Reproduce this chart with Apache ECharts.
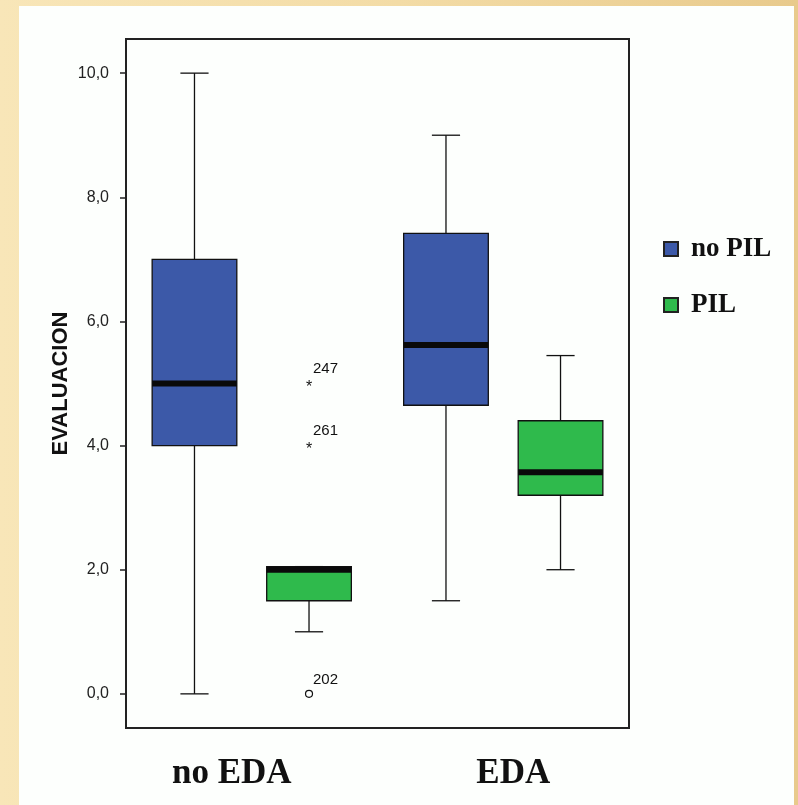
<!DOCTYPE html>
<html>
<head>
<meta charset="utf-8">
<script src="https://cdn.jsdelivr.net/npm/echarts@6.0.0/dist/echarts.min.js"></script>
<style>
  html, body { margin: 0; padding: 0; background: #f5e2b0; }
  #chart { width: 798px; height: 805px; }
</style>
</head>
<body>
<div id="chart"></div>
<script>
// categories and groups
var categories = ["no EDA", "EDA"];
var groups = ["no PIL", "PIL"];
var yTicks = [0, 2, 4, 6, 8, 10];

// [category index, low whisker, Q1, median, Q3, high whisker]
var noPilBoxes = [
  [0, 0.0, 4.0, 5.0, 7.0, 10.0],
  [1, 1.5, 4.65, 5.62, 7.42, 9.0]
];
var pilBoxes = [
  [0, 1.0, 1.5, 2.0, 2.05, 2.05],
  [1, 2.0, 3.2, 3.57, 4.4, 5.45]
];

// outliers of PIL group: [category index, value, case id, kind]
var pilOutliers = [
  [0, 5.0, "247", "star"],
  [0, 4.0, "261", "star"],
  [0, 0.0, "202", "circle"]
];

var colors = ["#3c59a8", "#2fba4c"];

function groupOffset(idx, bw) {
  // same layout as the boxplot series: two boxes per band
  var avail = bw * 0.8 - 2;
  var gap = avail / 2 * 0.3;
  var w = (avail - gap) / 2;
  return { off: w / 2 - avail / 2 + idx * (gap + w), w: w };
}

function boxRender(groupIdx) {
  return function (params, api) {
    var cat = api.value(0);
    var bw = api.size([1, 0])[0];
    var g = groupOffset(groupIdx, bw);
    var cx = api.coord([cat, 0])[0] + g.off;
    var yLow = api.coord([cat, api.value(1)])[1];
    var yQ1 = api.coord([cat, api.value(2)])[1];
    var yMed = api.coord([cat, api.value(3)])[1];
    var yQ3 = api.coord([cat, api.value(4)])[1];
    var yHigh = api.coord([cat, api.value(5)])[1];
    var half = g.w / 2;
    var cap = bw * 0.056;
    var line = { stroke: "#111", lineWidth: 1.3 };
    var children = [
      { type: "line", shape: { x1: cx, y1: yQ1, x2: cx, y2: yLow }, style: line },
      { type: "line", shape: { x1: cx, y1: yQ3, x2: cx, y2: yHigh }, style: line },
      { type: "line", shape: { x1: cx - cap, y1: yLow, x2: cx + cap, y2: yLow }, style: line },
      { type: "line", shape: { x1: cx - cap, y1: yHigh, x2: cx + cap, y2: yHigh }, style: line },
      { type: "rect", shape: { x: cx - half, y: yQ3, width: g.w, height: yQ1 - yQ3 },
        style: { fill: colors[groupIdx], stroke: "#111", lineWidth: 1.3 } },
      { type: "rect", shape: { x: cx - half, y: yMed - 3, width: g.w, height: 6 },
        style: { fill: "#0a0a0a" } }
    ];
    return { type: "group", children: children };
  };
}

function outlierRender(params, api) {
  var cat = api.value(0);
  var bw = api.size([1, 0])[0];
  var g = groupOffset(1, bw);
  var cx = api.coord([cat, 0])[0] + g.off;
  var cy = api.coord([cat, api.value(1)])[1];
  var item = pilOutliers[params.dataIndex];
  var mark;
  if (item[3] === "star") {
    mark = { type: "text", style: { x: cx, y: cy + 4, text: "*", fill: "#111",
      font: "16px 'Liberation Sans', Arial", align: "center", verticalAlign: "middle" } };
  } else {
    mark = { type: "circle", shape: { cx: cx, cy: cy, r: 3.5 },
      style: { fill: "none", stroke: "#111", lineWidth: 1.2 } };
  }
  var label = { type: "text", style: { x: cx + 4, y: cy - 7, text: item[2], fill: "#111",
    font: "15px 'Liberation Sans Narrow', 'Liberation Sans', Arial", align: "left", verticalAlign: "bottom" } };
  return { type: "group", children: [mark, label] };
}

var chart = echarts.init(document.getElementById("chart"));
var option = {
  backgroundColor: {
    type: "linear", x: 0, y: 0, x2: 1, y2: 0,
    colorStops: [{ offset: 0, color: "#f8e6b8" }, { offset: 0.5, color: "#f3dca6" }, { offset: 1, color: "#e8ca8c" }]
  },
  animation: false,
  graphic: [
    { type: "rect", z: -10, shape: { x: 19, y: 6, width: 775, height: 805 },
      style: { fill: "#fdfffd" } }
  ],
  grid: { left: 126, right: 169, top: 39, bottom: 77, show: true,
    borderColor: "#222", borderWidth: 2, backgroundColor: "transparent" },
  legend: {
    data: groups,
    orient: "vertical",
    left: 658,
    top: 230,
    itemWidth: 14,
    itemHeight: 14,
    itemGap: 28,
    icon: "rect",
    textStyle: { fontFamily: "'Liberation Serif', 'Times New Roman', serif",
      fontWeight: "bold", fontSize: 27, color: "#111", lineHeight: 28,
      padding: [0, 0, 0, 8] }
  },
  xAxis: {
    type: "category",
    data: categories,
    axisLine: { onZero: false, lineStyle: { color: "#222", width: 2 } },
    axisTick: { alignWithLabel: true, length: 7, lineStyle: { color: "#222", width: 1.5 } },
    axisLabel: {
      margin: 28, color: "#111",
      fontFamily: "'Liberation Serif', 'Times New Roman', serif",
      fontWeight: "bold", fontSize: 35,
      formatter: function (v, i) { return i === 0 ? "{a|" + v + "}" : "{b|" + v + "}"; },
      rich: {
        a: { padding: [0, 40, 0, 0], fontFamily: "'Liberation Serif', 'Times New Roman', serif",
          fontWeight: "bold", fontSize: 35, color: "#111" },
        b: { padding: [0, 0, 0, 20], fontFamily: "'Liberation Serif', 'Times New Roman', serif",
          fontWeight: "bold", fontSize: 35, color: "#111" }
      }
    },
    splitLine: { show: false }
  },
  yAxis: {
    type: "value",
    min: -0.55,
    max: 10.55,
    name: "EVALUACION",
    nameLocation: "middle",
    nameGap: 54,
    nameMoveOverlap: false,
    nameTextStyle: { fontFamily: "'Liberation Sans', Arial", fontWeight: "bold",
      fontSize: 22, color: "#111" },
    axisLine: { show: true, lineStyle: { color: "#222", width: 2 } },
    axisTick: { show: true, length: 6, customValues: yTicks,
      lineStyle: { color: "#222", width: 1.5 } },
    axisLabel: { customValues: yTicks, margin: 17, color: "#222",
      fontFamily: "'Liberation Sans Narrow', 'Liberation Sans', Arial", fontSize: 16,
      formatter: function (v) { return v.toFixed(1).replace(".", ","); } },
    splitLine: { show: false }
  },
  series: [
    { name: "no PIL", type: "custom", renderItem: boxRender(0), data: noPilBoxes,
      itemStyle: { color: colors[0], borderColor: "#222", borderWidth: 1 },
      encode: { x: 0, y: [1, 2, 3, 4, 5] } },
    { name: "PIL", type: "custom", renderItem: boxRender(1), data: pilBoxes,
      itemStyle: { color: colors[1], borderColor: "#222", borderWidth: 1 },
      encode: { x: 0, y: [1, 2, 3, 4, 5] } },
    { name: "outliers", type: "custom", renderItem: outlierRender,
      data: pilOutliers.map(function (d) { return [d[0], d[1]]; }),
      encode: { x: 0, y: 1 } }
  ]
};
chart.setOption(option);
</script>
</body>
</html>
